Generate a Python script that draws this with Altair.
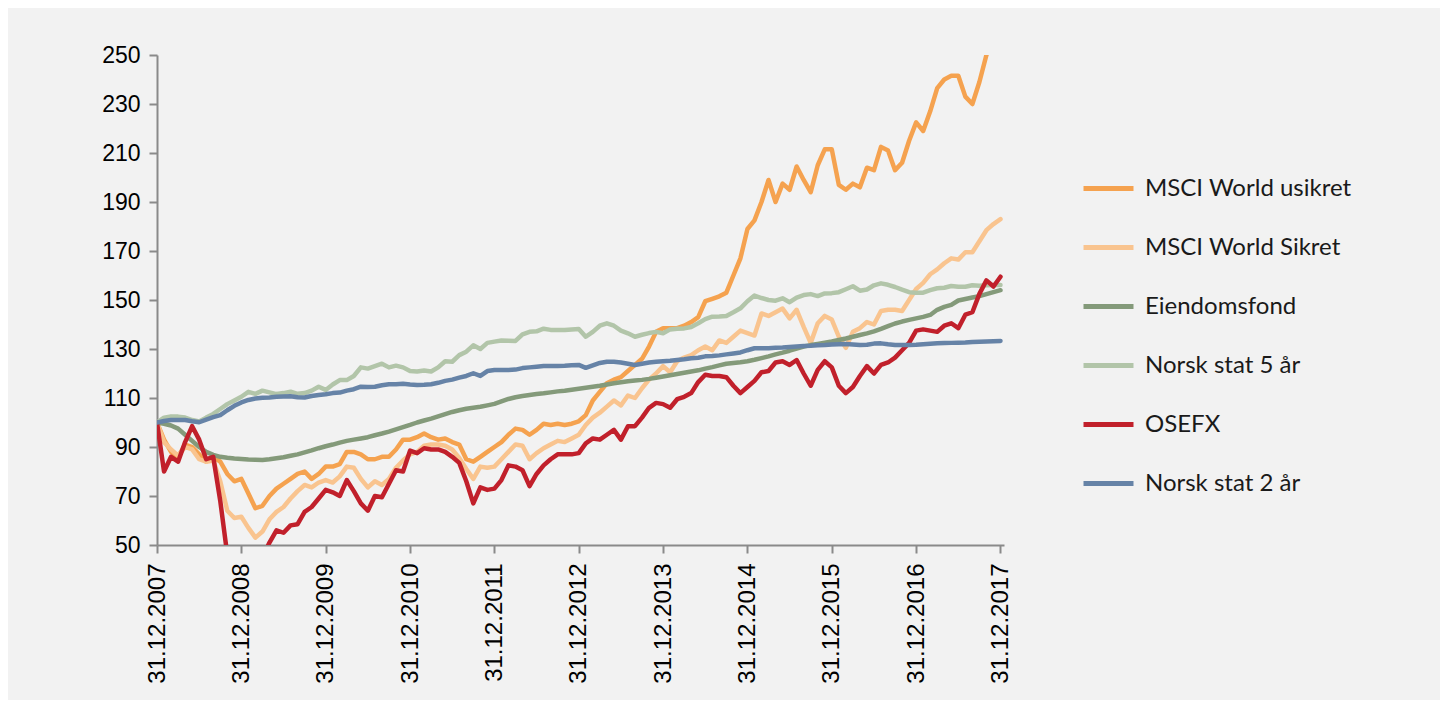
import altair as alt
import pandas as pd

# month index from 31.12.2007 (0) to 31.12.2017 (120)
months = list(range(121))

series_names = ["MSCI World usikret", "MSCI World Sikret", "Eiendomsfond",
                "Norsk stat 5 år", "OSEFX", "Norsk stat 2 år"]
series_colors = ["#f5a24f", "#f9c48f", "#849a7a", "#b2c5a9", "#c1202b", "#6683a7"]

year_ticks = [0, 12, 24, 36, 48, 60, 72, 84, 96, 108, 120]
year_labels = ["31.12.2007", "31.12.2008", "31.12.2009", "31.12.2010", "31.12.2011",
               "31.12.2012", "31.12.2013", "31.12.2014", "31.12.2015", "31.12.2016",
               "31.12.2017"]
y_ticks = [50, 70, 90, 110, 130, 150, 170, 190, 210, 230, 250]

msci_usikret = [
    100, 93, 88, 86, 91, 90, 87, 84, 86, 84,
    79, 76, 77, 71, 65, 66, 70, 73, 75, 77,
    79, 80, 77, 79, 82, 82, 83, 88, 88, 87,
    85, 85, 86, 86, 89, 93, 93, 94, 95.5, 94,
    93, 93.5, 92, 91, 85, 84, 86, 88, 90, 92,
    95, 97.5, 97, 95, 97, 99.5, 99, 99.5, 99, 99.5,
    100.5, 103, 109, 112.5, 116, 117.5, 118.5, 121, 123.5, 126,
    131, 137, 138.5, 138.5, 138.5, 139.5, 141, 143, 149.5, 150.5,
    151.5, 153, 160, 167, 179, 182.5, 190, 199, 190, 197.5,
    195, 204.5, 199, 194, 205, 211.5, 211.5, 197, 195, 197.5,
    196, 204, 203, 212.5, 211, 203, 206, 215, 222.5, 219,
    227, 236.5, 240, 241.5, 241.5, 233, 230, 239, 250, 256,
    260]

msci_sikret = [
    100, 92, 89, 86.5, 90, 89, 85, 84, 84.5, 76,
    64, 61, 61.5, 57, 53, 55.5, 60.5, 63.5, 65.5, 69,
    72, 74.5, 73.5, 75.5, 76.5, 75.5, 78, 82, 81.5, 77,
    73.5, 76, 74.5, 77, 81.5, 84.5, 87, 88, 90.5, 91,
    91, 90.5, 89, 85.5, 81, 77, 82, 81.5, 82, 85,
    88, 91, 90.5, 85, 87.5, 89.5, 91, 92.5, 92, 93.5,
    95, 99, 102, 104, 106.5, 109, 107, 111, 110, 114,
    117.5, 120, 123, 120.5, 125, 126.5, 127.5, 129.5, 131, 129.5,
    133.5, 132.5, 135, 137.5, 136.5, 135.5, 144.5, 143.5, 145, 146.5,
    142.5, 146, 139, 132.5, 140.5, 143.5, 142, 135, 130.5, 137,
    138.5, 141, 140, 145.5, 146, 146, 145.5, 150, 154.5, 157,
    160.5, 162.5, 165, 167, 166.5, 169.5, 169.5, 174, 178.5, 181,
    183]

eiendomsfond = [
    100, 99.5, 98.8, 97.5, 95, 92.5, 90, 88, 86.8, 86,
    85.6, 85.3, 85.1, 84.9, 84.8, 84.7, 85, 85.4, 85.8, 86.4,
    87, 87.8, 88.6, 89.5, 90.3, 91, 91.8, 92.5, 93, 93.5,
    94, 94.8, 95.5, 96.3, 97.2, 98.1, 99, 100, 100.8, 101.6,
    102.5, 103.4, 104.3, 105, 105.6, 106, 106.4, 107, 107.6, 108.6,
    109.6, 110.3, 110.8, 111.2, 111.6, 111.9, 112.3, 112.7, 113, 113.4,
    113.8, 114.2, 114.6, 115, 115.5, 116, 116.4, 116.8, 117.1, 117.4,
    117.8, 118.3, 118.8, 119.3, 119.8, 120.3, 120.8, 121.3, 122, 122.6,
    123.3, 124, 124.3, 124.6, 125, 125.6, 126.3, 127, 127.8, 128.5,
    129.3, 130.2, 131, 131.6, 132.1, 132.6, 133.1, 133.7, 134.3, 135,
    135.7, 136.4, 137.2, 138.2, 139.3, 140.4, 141.2, 141.9, 142.5, 143.1,
    143.9, 146, 147.2, 148, 149.8, 150.4, 151, 151.6, 152.4, 153.2,
    154]

norsk_stat_5 = [
    100, 102, 102.5, 102.4, 102, 101, 100.4, 102, 103.5, 105.5,
    107.5, 109, 110.5, 112.5, 111.7, 113, 112.3, 111.6, 112, 112.6,
    111.7, 112, 113, 114.6, 113.3, 115.5, 117.3, 117.3, 119, 122.5,
    122, 123, 124, 122.5, 123.2, 122.5, 121, 120.8, 121.2, 120.8,
    122.5, 125, 124.8, 127.5, 128.9, 131.5, 130, 132.5, 133, 133.5,
    133.4, 133.3, 136, 137, 137.2, 138.3, 137.8, 137.8, 137.8, 138,
    138.2, 135, 137, 139.5, 140.5, 139.5, 137.5, 136.4, 135, 135.8,
    136.5, 137, 136.4, 138, 138.3, 138.4, 139, 140.5, 142.2, 143.2,
    143.3, 143.5, 145, 146.6, 149.5, 151.8, 150.8, 150, 149.7, 150.7,
    149.1, 151, 152, 152.4, 151.6, 152.7, 152.8, 153.2, 154.4, 155.6,
    153.8, 154.3, 156, 156.8, 156.2, 155.3, 154.2, 153.2, 153, 153,
    154, 154.8, 155, 155.7, 155.4, 155.4, 156, 155.8, 156, 156.1,
    156.1]

osefx = [
    100, 80, 86, 84, 92, 98.5, 93, 85, 86, 68,
    46, 43, 45, 41, 40, 45, 51, 56, 55, 58,
    58.5, 63.5, 65.5, 69, 72.5, 71.5, 70, 76.5, 72, 67,
    64, 70, 69.5, 75, 80.5, 80, 88.5, 87.5, 89.5, 89,
    89, 88, 86, 83.5, 76, 67, 73.5, 72.5, 73, 76.5,
    82.5, 82, 80.5, 74, 79, 82.5, 85, 87, 87, 87,
    87.5, 91.5, 93.5, 93, 95, 97, 93, 98.5, 98.5, 102,
    106, 108, 107.5, 106, 109.5, 110.5, 112, 116.5, 119.5, 119,
    119, 118.5, 115, 112, 114.5, 117, 120.5, 121, 124.5, 125,
    123.5, 125.5, 120, 115, 121.5, 125, 122.5, 115, 112, 114.5,
    119, 123, 120, 123.5, 124.5, 126.5, 129.5, 132.5, 137.5, 138,
    137.5, 137, 139.5, 140.5, 138.5, 144, 145, 152.5, 158, 155.5,
    159.5]

norsk_stat_2 = [
    100, 100.6, 101, 101, 101, 100.5, 100.1, 101.2, 102.2, 103,
    105, 106.8, 108.2, 109.2, 109.8, 110.1, 110.2, 110.5, 110.6, 110.7,
    110.3, 110.2, 110.8, 111.2, 111.5, 112, 112.2, 113, 113.6, 114.6,
    114.5, 114.6, 115.2, 115.6, 115.6, 115.8, 115.5, 115.3, 115.4, 115.6,
    116.2, 117, 117.5, 118.3, 119, 120.1, 119, 121, 121.4, 121.4,
    121.4, 121.6, 122.2, 122.5, 122.8, 123.1, 123.1, 123.1, 123.2, 123.4,
    123.5, 122.3, 123.3, 124.3, 124.8, 124.8, 124.5, 124, 123.5, 124,
    124.5, 124.8, 125, 125.2, 125.5, 125.8, 126.2, 126.4, 127, 127.1,
    127.4, 127.8, 128.2, 128.6, 129.5, 130.3, 130.3, 130.3, 130.5, 130.6,
    130.8, 131, 131.2, 131.3, 131.5, 131.6, 131.8, 131.9, 132, 131.8,
    131.6, 131.7, 132.2, 132.3, 131.9, 131.6, 131.6, 131.6, 131.7, 131.9,
    132.1, 132.3, 132.4, 132.5, 132.6, 132.7, 132.9, 133, 133.1, 133.2,
    133.3]

all_series = [msci_usikret, msci_sikret, eiendomsfond, norsk_stat_5, osefx, norsk_stat_2]

rows = []
for name, vals in zip(series_names, all_series):
    assert len(vals) == len(months), (name, len(vals))
    for m, v in zip(months, vals):
        rows.append({"month": m, "value": v, "series": name})
df = pd.DataFrame(rows)

label_expr = "[" + ",".join("'%s'" % l for l in year_labels) + "][round(datum.value/12)]"

x_enc = alt.X("month:Q",
              scale=alt.Scale(domain=[0, 120.5], nice=False, zero=False),
              axis=alt.Axis(values=year_ticks, labelExpr=label_expr, labelAngle=270,
                            title=None, grid=False, labelPadding=10, labelFontSize=24))
y_enc = alt.Y("value:Q",
              scale=alt.Scale(domain=[50, 250], nice=False, zero=False),
              axis=alt.Axis(values=y_ticks, title=None, grid=False, labelPadding=9))
color_enc = alt.Color("series:N",
                      scale=alt.Scale(domain=series_names, range=series_colors),
                      legend=alt.Legend(title=None, orient="none", legendX=924, legendY=106,
                                        symbolType="stroke", symbolSize=2500,
                                        symbolStrokeWidth=5, labelFont="Lato",
                                        labelFontSize=24, labelColor="#1a1a1a",
                                        labelOffset=9, rowPadding=19, padding=0,
                                        labelLimit=0))

layers = []
for name in series_names:
    layers.append(
        alt.Chart(df)
        .transform_filter(alt.datum.series == name)
        .mark_line(strokeWidth=4.5, clip=True, strokeJoin="round", strokeCap="round")
        .encode(x=x_enc, y=y_enc, color=color_enc)
    )

chart = (
    alt.layer(*layers)
    .properties(width=847, height=490,
                padding={"left": 149, "top": 47, "right": 436, "bottom": 155},
                autosize=alt.AutoSizeParams(type="none"),
                background="#f2f2f2")
    .configure_view(stroke=None)
    .configure_axis(labelFont="Liberation Sans", labelFontSize=23, labelColor="#000000",
                    domainColor="#8a8a8a", domainWidth=2, tickColor="#8a8a8a",
                    tickWidth=2, tickSize=8)
)

chart.save("out.html", embed_options={"renderer": "svg", "actions": False})
